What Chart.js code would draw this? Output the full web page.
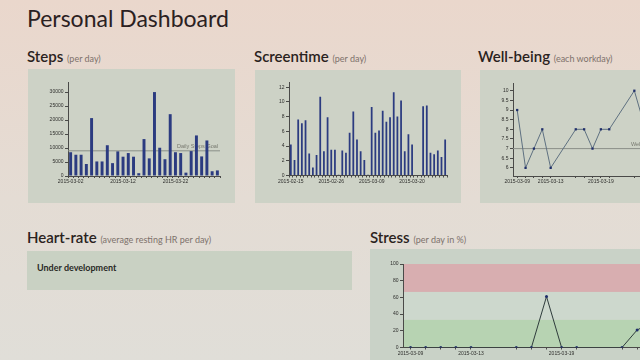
<!DOCTYPE html>
<html>
<head>
<meta charset="UTF-8" />
<title>Personal Dashboard</title>
<script src="https://cdn.jsdelivr.net/npm/chart.js@4/dist/chart.umd.min.js"></script>
<style>
	body {
		margin: 0;
		width: 640px;
		height: 360px;
		overflow: hidden;
		position: relative;
		background: linear-gradient(#ead7cc, #e4dcd4 55%, #e0ded8);
		font-family: Lato, "Open Sans", sans-serif;
	}
	h1 {
		position: absolute; left: 27px; top: 4px; margin: 0;
		font-size: 23px; font-weight: 400; line-height: 28px; color: #2b211f;
	}
	.head {
		position: absolute; margin: 0; white-space: nowrap;
		font-size: 15px; font-weight: 600; line-height: 18px; color: #2a2220;
	}
	.head small { font-size: 9px; font-weight: 400; color: #7d716b; }
	.panel { position: absolute; background: #cdd2c6; }
	.panel canvas { display: block; }
	.note { position: absolute; left: 10px; top: 11px; font-size: 9px; font-weight: 700; color: #2a2a26; }
</style>
</head>
<body>
	<h1>Personal Dashboard</h1>

	<div class="head" style="left:27px; top:47px;">Steps <small>(per day)</small></div>
	<div class="head" style="left:254px; top:47px;">Screentime <small>(per day)</small></div>
	<div class="head" style="left:478px; top:47px;">Well-being <small>(each workday)</small></div>

	<div class="panel" style="left:28px; top:69px; width:207px; height:134px;"><canvas id="steps" width="207" height="134"></canvas></div>
	<div class="panel" style="left:255px; top:70px; width:206px; height:133px;"><canvas id="screen" width="206" height="133"></canvas></div>
	<div class="panel" style="left:480px; top:70px; width:210px; height:133px;"><canvas id="wellbeing" width="210" height="133"></canvas></div>

	<div class="head" style="left:27px; top:228px;">Heart-rate <small>(average resting HR per day)</small></div>
	<div class="panel" style="left:27px; top:251px; width:325px; height:39px; background:#c9d1c3;"><div class="note">Under development</div></div>

	<div class="head" style="left:370px; top:228px;">Stress <small>(per day in %)</small></div>
	<div class="panel" style="left:370px; top:249px; width:340px; height:130px; background:#c9d2c7;"><canvas id="stress" width="340" height="130"></canvas></div>

<script>
// steps per day
var STEPS_DATES = ['2015-03-02','2015-03-03','2015-03-04','2015-03-05','2015-03-06','2015-03-07','2015-03-08',
	'2015-03-09','2015-03-10','2015-03-11','2015-03-12','2015-03-13','2015-03-14','2015-03-15',
	'2015-03-16','2015-03-17','2015-03-18','2015-03-19','2015-03-20','2015-03-21','2015-03-22',
	'2015-03-23','2015-03-24','2015-03-25','2015-03-26','2015-03-27','2015-03-28','2015-03-29','2015-03-30'];
var STEPS = [8500, 7600, 7600, 4300, 20700, 5200, 5200, 11000, 4600, 8800, 6900, 8200, 6900, 1000, 13200,
	6300, 30000, 10100, 6000, 22100, 8500, 8200, 1200, 8900, 14500, 7000, 12700, 1700, 2000];
var STEPS_TICKS = [0, 5000, 10000, 15000, 20000, 25000, 30000];
var STEPS_LABELED = ['2015-03-02', '2015-03-12', '2015-03-22'];
var STEPS_GOAL = 9000;

// screentime hours per day
var SCREEN_DATES = ['2015-02-15','2015-02-16','2015-02-17','2015-02-18','2015-02-19','2015-02-20','2015-02-21',
	'2015-02-22','2015-02-23','2015-02-24','2015-02-25','2015-02-26','2015-02-27','2015-02-28',
	'2015-03-01','2015-03-02','2015-03-03','2015-03-04','2015-03-05','2015-03-06','2015-03-07',
	'2015-03-08','2015-03-09','2015-03-10','2015-03-11','2015-03-12','2015-03-13','2015-03-14',
	'2015-03-15','2015-03-16','2015-03-17','2015-03-18','2015-03-19','2015-03-20','2015-03-21',
	'2015-03-22','2015-03-23','2015-03-24','2015-03-25','2015-03-26','2015-03-27','2015-03-28','2015-03-29'];
var SCREEN = [4.2, 2.1, 7.6, 7.1, 7.5, 3.0, 1.1, 2.8, 10.7, 3.3, 7.9, 3.5, 3.5, 0.1, 3.4, 3.1, 5.8, 8.7,
	4.9, 3.3, 2.1, 0.1, 9.3, 5.8, 6.1, 8.8, 7.3, 7.9, 11.3, 8.0, 10.2, 3.3, 5.6, 4.2, 0, 0,
	9.4, 9.5, 3.1, 2.9, 3.4, 2.5, 4.9];
var SCREEN_TICKS = [0, 1, 2, 3, 4, 5, 6, 7, 8, 9, 10, 11, 12];
var SCREEN_LABELED = ['2015-02-15', '2015-02-26', '2015-03-09', '2015-03-20'];

// workday charts (weekends empty)
var WORK_DATES = ['2015-03-09','2015-03-10','2015-03-11','2015-03-12','2015-03-13','2015-03-14','2015-03-15',
	'2015-03-16','2015-03-17','2015-03-18','2015-03-19','2015-03-20','2015-03-21','2015-03-22',
	'2015-03-23','2015-03-24','2015-03-25','2015-03-26','2015-03-27'];
var WORK_LABELED = ['2015-03-09', '2015-03-13', '2015-03-19'];
var WELLBEING = [9, 6, 7, 8, 6, null, null, 8, 8, 7, 8, 8, null, null, 10, 8.5, null, null, null];
var WELLBEING_TICKS = [6, 6.5, 7, 7.5, 8, 8.5, 9, 9.5, 10];
var WELLBEING_GOAL = 7;
var STRESS = [0, 0, 0, 0, 0, null, null, 0, 0, 61, 0, 0, null, null, 0, 21, 30, null, null];
var STRESS_TICKS = [0, 10, 20, 30, 40, 50, 60, 70, 80, 90, 100];
var STRESS_BANDS = [[0, 33.3, '#b7d3b2'], [33.3, 66.6, '#cdd8cd'], [66.6, 100, '#d8aeb0']];

var AXIS = '#4a4a48';
var TICKFONT = { family: '"Liberation Sans", Arial', size: 5 };

Chart.defaults.animation = false;
Chart.defaults.color = '#2e2e2c';

// horizontal goal line with a small label on the right
var goalLine = {
	id: 'goalLine',
	beforeDatasetsDraw: function (chart, args, opts) {
		var ctx = chart.ctx, area = chart.chartArea;
		var y = chart.scales.y.getPixelForValue(opts.value);
		ctx.save();
		ctx.strokeStyle = '#8b8f88';
		ctx.lineWidth = 1;
		ctx.beginPath();
		ctx.moveTo(area.left, y);
		ctx.lineTo(area.right, y);
		ctx.stroke();
		ctx.fillStyle = '#77796f';
		ctx.font = '5.5px "Liberation Sans", Arial';
		ctx.textAlign = 'right';
		ctx.textBaseline = 'bottom';
		ctx.fillText(opts.label, area.right - 2, y - 1.5);
		ctx.restore();
	}
};

// coloured bands behind the stress line
var bands = {
	id: 'bands',
	beforeDraw: function (chart) {
		var ctx = chart.ctx, area = chart.chartArea, ys = chart.scales.y;
		ctx.save();
		STRESS_BANDS.forEach(function (b) {
			var top = ys.getPixelForValue(b[1]), bot = ys.getPixelForValue(b[0]);
			ctx.fillStyle = b[2];
			ctx.fillRect(area.left, top, chart.width - area.left, bot - top);
		});
		ctx.restore();
	}
};

function xAxis(labeled, tickOn) {
	return {
		offset: true,
		border: { display: true, color: AXIS },
		grid: {
			drawOnChartArea: false,
			tickLength: 2,
			tickColor: function (c) { return tickOn(c.index) ? AXIS : 'rgba(0,0,0,0)'; }
		},
		ticks: {
			autoSkip: false, maxRotation: 0, minRotation: 0, padding: 1, font: TICKFONT,
			callback: function (v) {
				var l = this.getLabelForValue(v);
				return labeled.indexOf(l) >= 0 ? l : '';
			}
		},
		afterFit: function (s) { s.height = 10; }
	};
}

function yAxis(min, max, ticks, width) {
	return {
		min: min, max: max,
		border: { display: true, color: AXIS },
		grid: { drawOnChartArea: false, tickLength: 3, tickColor: AXIS },
		ticks: { padding: 1.5, font: TICKFONT, callback: function (v) { return String(v); } },
		afterBuildTicks: function (s) { s.ticks = ticks.map(function (v) { return { value: v }; }); },
		afterFit: function (s) { s.width = width; }
	};
}

function always() { return true; }

new Chart(document.getElementById('steps'), {
	type: 'bar',
	data: {
		labels: STEPS_DATES,
		datasets: [{ data: STEPS, backgroundColor: '#2b3b80', barPercentage: 0.56, categoryPercentage: 1 }]
	},
	options: {
		responsive: false,
		layout: { padding: { top: 13, right: 15, bottom: 17 } },
		plugins: { legend: { display: false }, tooltip: { enabled: false },
			goalLine: { value: STEPS_GOAL, label: 'Daily Steps Goal' } },
		scales: { x: xAxis(STEPS_LABELED, always), y: yAxis(0, 33600, STEPS_TICKS, 40) }
	},
	plugins: [goalLine]
});

new Chart(document.getElementById('screen'), {
	type: 'bar',
	data: {
		labels: SCREEN_DATES,
		datasets: [{ data: SCREEN, backgroundColor: '#2b3b80', barPercentage: 0.48, categoryPercentage: 1 }]
	},
	options: {
		responsive: false,
		layout: { padding: { top: 12, right: 14, bottom: 17.5 } },
		plugins: { legend: { display: false }, tooltip: { enabled: false } },
		scales: { x: xAxis(SCREEN_LABELED, always), y: yAxis(0, 12.7, SCREEN_TICKS, 34) }
	}
});

new Chart(document.getElementById('wellbeing'), {
	type: 'line',
	data: {
		labels: WORK_DATES,
		datasets: [{
			data: WELLBEING, spanGaps: true, borderColor: '#5e7080', borderWidth: 1, tension: 0,
			pointStyle: 'rect', pointRadius: 1.6, pointBackgroundColor: '#1f2e6a', pointBorderWidth: 0
		}]
	},
	options: {
		responsive: false,
		layout: { padding: { top: 13, right: 18, bottom: 17 } },
		plugins: { legend: { display: false }, tooltip: { enabled: false },
			goalLine: { value: WELLBEING_GOAL, label: 'Well-being Goal' } },
		scales: {
			x: xAxis(WORK_LABELED, function (i) { return WELLBEING[i] !== null || i > 15; }),
			y: yAxis(5.58, 10.4, WELLBEING_TICKS, 33)
		}
	},
	plugins: [goalLine]
});

new Chart(document.getElementById('stress'), {
	type: 'line',
	data: {
		labels: WORK_DATES,
		datasets: [{
			data: STRESS, spanGaps: true, borderColor: '#2f3c3c', borderWidth: 1, tension: 0,
			pointRadius: 1.5, pointBackgroundColor: '#1f2e6a', pointBorderWidth: 0
		}]
	},
	options: {
		responsive: false,
		layout: { padding: { top: 15, right: 20, bottom: 21.5 } },
		plugins: { legend: { display: false }, tooltip: { enabled: false } },
		scales: {
			x: xAxis(WORK_LABELED, function (i) { return STRESS[i] !== null; }),
			y: yAxis(0, 100, STRESS_TICKS, 33)
		}
	},
	plugins: [bands]
});
</script>
</body>
</html>
